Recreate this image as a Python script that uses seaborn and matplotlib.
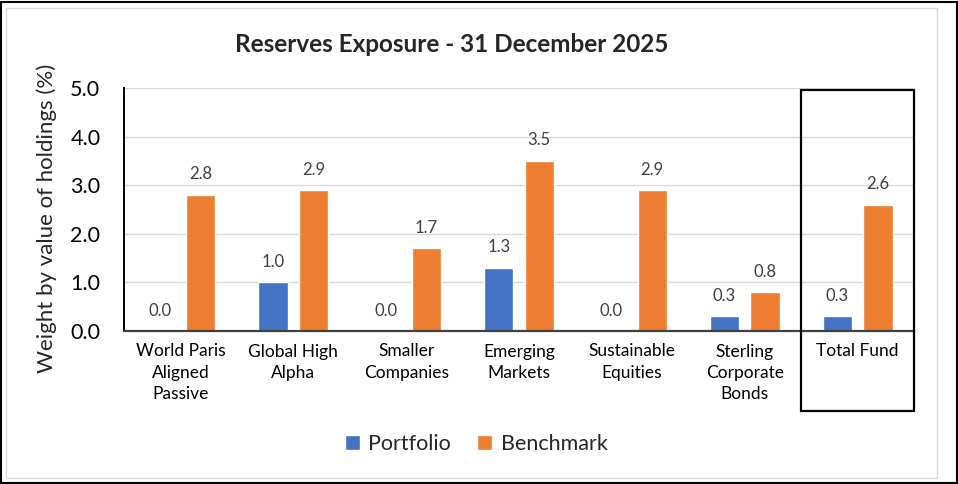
import pandas as pd
import numpy as np
import matplotlib.pyplot as plt
import seaborn as sns
from matplotlib.patches import Rectangle

categories = ["World Paris\nAligned\nPassive", "Global High\nAlpha", "Smaller\nCompanies",
              "Emerging\nMarkets", "Sustainable\nEquities", "Sterling\nCorporate\nBonds",
              "Total Fund"]
portfolio = [0.0, 1.0, 0.0, 1.3, 0.0, 0.3, 0.3]
benchmark = [2.8, 2.9, 1.7, 3.5, 2.9, 0.8, 2.6]
series = ["Portfolio", "Benchmark"]
colors = ["#4472C4", "#ED7D31"]

df = pd.DataFrame({
    "Category": categories * 2,
    "Series": [series[0]] * len(categories) + [series[1]] * len(categories),
    "Value": portfolio + benchmark,
})

sns.set_style("white")
plt.rcParams["font.family"] = ["Lato", "DejaVu Sans"]

W, H = 958, 484
fig = plt.figure(figsize=(W / 100, H / 100), dpi=100)
ax = fig.add_axes([124 / W, (H - 331) / H, 790 / W, 243 / H])

sns.barplot(data=df, x="Category", y="Value", hue="Series", palette=colors,
            width=0.72, gap=0.28, saturation=1, ax=ax, legend=True)

for c in ax.containers:
    ax.bar_label(c, fmt="%.1f", padding=9, fontsize=12, color="#404040")

ax.set_ylim(0, 5)
ax.set_yticks(np.arange(0, 5.01, 1.0))
ax.set_yticklabels([f"{v:.1f}" for v in np.arange(0, 5.01, 1.0)], fontsize=15.5)
ax.set_xlim(-0.5, len(categories) - 0.5)
ax.tick_params(axis="y", length=0, pad=17, colors="black")
ax.tick_params(axis="x", length=0, pad=9, labelsize=12.5, colors="black")
for t in ax.get_xticklabels():
    t.set_linespacing(1.4)
ax.set_xlabel("")
ax.set_ylabel("Weight by value of holdings (%)", fontsize=16)
ax.yaxis.set_label_coords(-0.085, 0.465)
ax.yaxis.grid(True, color="#D9D9D9", linewidth=1)
ax.set_axisbelow(True)
for s in ["top", "right"]:
    ax.spines[s].set_visible(False)
ax.spines["left"].set_color("black")
ax.spines["left"].set_linewidth(1.4)
ax.spines["bottom"].set_color("#404040")
ax.spines["bottom"].set_linewidth(1.6)

# box around the Total Fund group
ax.add_patch(Rectangle((len(categories) - 1.5, -0.329), 1.0, 1.321,
                       transform=ax.get_xaxis_transform(), fill=False,
                       edgecolor="black", linewidth=1.6, clip_on=False, zorder=5))

handles, labels = ax.get_legend_handles_labels()
ax.get_legend().remove()
fig.legend(handles, labels, loc="center", bbox_to_anchor=(476 / W, (H - 444) / H),
           ncol=2, frameon=False, fontsize=15.5, handlelength=0.7, handleheight=0.7,
           handletextpad=0.4, columnspacing=1.2)

fig.text(452 / W, (H - 45) / H, "Reserves Exposure - 31 December 2025",
         ha="center", va="center", fontsize=17.5, fontweight="bold")

# chart area and outer borders
fig.patches.append(Rectangle((6 / W, (H - 478) / H), 931 / W, 470 / H,
                             transform=fig.transFigure, fill=False,
                             edgecolor="#D9D9D9", linewidth=1))
fig.patches.append(Rectangle((0.5 / W, 1.5 / H), (W - 2) / W, (H - 3) / H,
                             transform=fig.transFigure, fill=False,
                             edgecolor="black", linewidth=1.5))

fig.savefig("out.png", dpi=100)
